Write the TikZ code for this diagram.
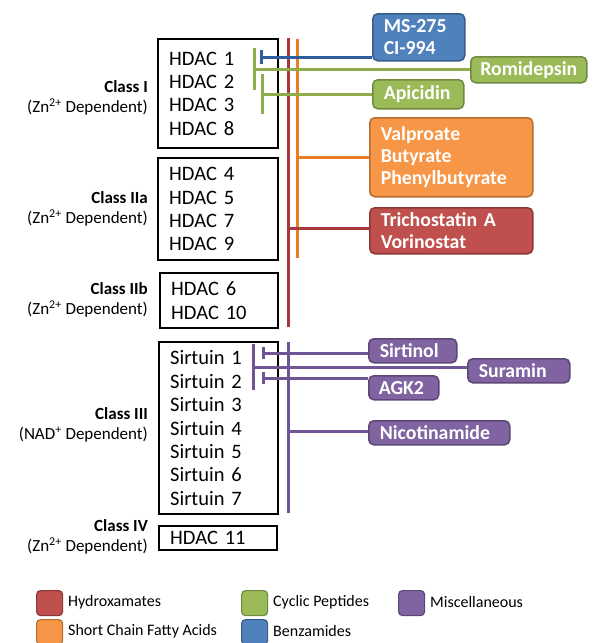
\documentclass[tikz,border=0pt]{standalone}
\usepackage{fontspec}
\newfontfamily\cf{Carlito}
\usetikzlibrary{arrows.meta}
\definecolor{redF}{HTML}{C0504D}\definecolor{redD}{HTML}{8C3836}\definecolor{redL}{HTML}{A8373A}
\definecolor{orF}{HTML}{F79646}\definecolor{orD}{HTML}{B66D31}\definecolor{orL}{HTML}{EC7D22}
\definecolor{grF}{HTML}{9BBB59}\definecolor{grD}{HTML}{71893F}\definecolor{grL}{HTML}{8DAE4B}
\definecolor{blF}{HTML}{4F81BD}\definecolor{blD}{HTML}{385D8A}\definecolor{blL}{HTML}{2F5E9E}
\definecolor{puF}{HTML}{8064A2}\definecolor{puD}{HTML}{5C4776}\definecolor{puL}{HTML}{6F5596}
\tikzset{
  classbox/.style={draw=black, line width=2.4pt, font=\cf\fontsize{20.5}{23.4}\selectfont, align=left, anchor=north west, inner xsep=11pt, inner ysep=0pt},
  classlab/.style={font=\cf\fontsize{17}{20}\selectfont, align=right, anchor=east, inner sep=0pt},
  drug/.style={rounded corners=5pt, line width=1.5pt, text=white, font=\cf\bfseries\fontsize{19.8}{22}\selectfont, align=left, anchor=north west, inner xsep=11pt, inner ysep=0pt},
  conn/.style={line width=3pt},
  legsq/.style={rounded corners=4pt, line width=1.2pt, minimum width=26pt, minimum height=25pt, anchor=north west, inner sep=0pt},
  legtx/.style={font=\cf\fontsize{16}{18}\selectfont, anchor=west, inner sep=0pt}
}
\begin{document}
\begin{tikzpicture}[x=1pt,y=-1pt]
\useasboundingbox (0,0) rectangle (595,643);
% class boxes
\node[classbox, text width=98pt, minimum width=120pt, minimum height=109pt] (c1) at (157,38) {HDAC 1\\HDAC 2\\HDAC 3\\HDAC 8};
\node[classbox, text width=98pt, minimum width=120pt, minimum height=102pt] (c2a) at (157,157) {HDAC 4\\HDAC 5\\HDAC 7\\HDAC 9};
\node[classbox, text width=96pt, minimum width=118pt, minimum height=55pt] (c2b) at (159,272) {HDAC 6\\HDAC 10};
\node[classbox, text width=97pt, minimum width=119pt, minimum height=172pt] (c3) at (158,341) {Sirtuin 1\\Sirtuin 2\\Sirtuin 3\\Sirtuin 4\\Sirtuin 5\\Sirtuin 6\\Sirtuin 7};
\node[classbox, text width=96pt, minimum width=118pt, minimum height=24pt] (c4) at (158,525) {HDAC 11};
% class labels
\node[classlab] (l1) at (148,98) {\textbf{Class I}\\(Zn\textsuperscript{2+} Dependent)};
\node[classlab] (l2a) at (148,209) {\textbf{Class IIa}\\(Zn\textsuperscript{2+} Dependent)};
\node[classlab] (l2b) at (148,300) {\textbf{Class IIb}\\(Zn\textsuperscript{2+} Dependent)};
\node[classlab] (l3) at (148,425) {\textbf{Class III}\\(NAD\textsuperscript{+} Dependent)};
\node[classlab] (l4) at (148,537) {\textbf{Class IV}\\(Zn\textsuperscript{2+} Dependent)};
% drug boxes
\node[drug, fill=blF, draw=blD, text width=70pt, minimum height=47pt] (ms) at (372,13) {MS-275\\CI-994};
\node[drug, fill=grF, draw=grD, align=center, minimum width=116pt, minimum height=26pt, inner xsep=2pt] (romi) at (470,56) {Romidepsin};
\node[drug, fill=grF, draw=grD, text width=69pt, minimum height=29pt] (api) at (372,79) {Apicidin};
\node[drug, fill=orF, draw=orD, text width=141pt, minimum height=79pt] (valp) at (369,117) {Valproate\\Butyrate\\Phenylbutyrate};
\node[drug, fill=redF, draw=redD, text width=141pt, minimum height=46pt] (tsa) at (369,207) {Trichostatin A\\Vorinostat};
\node[drug, fill=puF, draw=puD, text width=66pt, minimum height=24pt] (sirt) at (368,338) {Sirtinol};
\node[drug, fill=puF, draw=puD, text width=80pt, minimum height=24pt] (sura) at (467,358) {Suramin};
\node[drug, fill=puF, draw=puD, text width=50pt, minimum height=24pt, inner xsep=10pt] (agk) at (368,375) {AGK2};
\node[drug, fill=puF, draw=puD, text width=119pt, minimum height=24pt] (nico) at (368,420) {Nicotinamide};
% trunk lines
\coordinate (rTop) at (288,38); \coordinate (rBot) at (288,327);
\coordinate (oTop) at (297,39); \coordinate (oBot) at (297,258);
\coordinate (pTop) at (288,342); \coordinate (pBot) at (288,513);
\draw[conn, redL] (rTop) -- (rBot);
\draw[conn, orL] (oTop) -- (oBot);
\draw[conn, puL] (pTop) -- (pBot);
\draw[conn, orL] (oTop |- valp.west) -- (valp.west);
\draw[conn, redL] (rTop |- 0,228) -- (tsa.west |- 0,228);
\draw[conn, puL] (pTop |- 0,431) -- (nico.west |- 0,431);
% inhibition ends
\coordinate (bMS) at (260,57); \coordinate (bRo) at (253,69); \coordinate (bAp) at (261,94);
\coordinate (bSi) at (262,353); \coordinate (bSu) at (252,367); \coordinate (bAg) at (262,378);
\draw[conn, blL, -{Bar[width=14pt]}] (ms.west |- bMS) -- (bMS);
\draw[conn, grL, -{Bar[width=42pt]}] (romi.west |- bRo) -- (bRo);
\draw[conn, grL, -{Bar[width=40pt]}] (api.west |- bAp) -- (bAp);
\draw[conn, puL, -{Bar[width=12pt]}] (sirt.west |- bSi) -- (bSi);
\draw[conn, puL, -{Bar[width=46pt]}] (sura.west |- bSu) -- (bSu);
\draw[conn, puL, -{Bar[width=12pt]}] (agk.west |- bAg) -- (bAg);
% legend
\node[legsq, fill=redF, draw=redD] (sqH) at (36,590) {};
\node[legtx] (tH) at (68,602) {Hydroxamates};
\node[legsq, fill=orF, draw=orD] (sqS) at (36,619) {};
\node[legtx] (tS) at (68,631) {Short Chain Fatty Acids};
\node[legsq, fill=grF, draw=grD] (sqC) at (241,590) {};
\node[legtx] (tC) at (273,602) {Cyclic Peptides};
\node[legsq, fill=blF, draw=blD] (sqB) at (241,619) {};
\node[legtx] (tB) at (273,631) {Benzamides};
\node[legsq, fill=puF, draw=puD] (sqM) at (398,590) {};
\node[legtx] (tM) at (430,602) {Miscellaneous};
\end{tikzpicture}
\end{document}
